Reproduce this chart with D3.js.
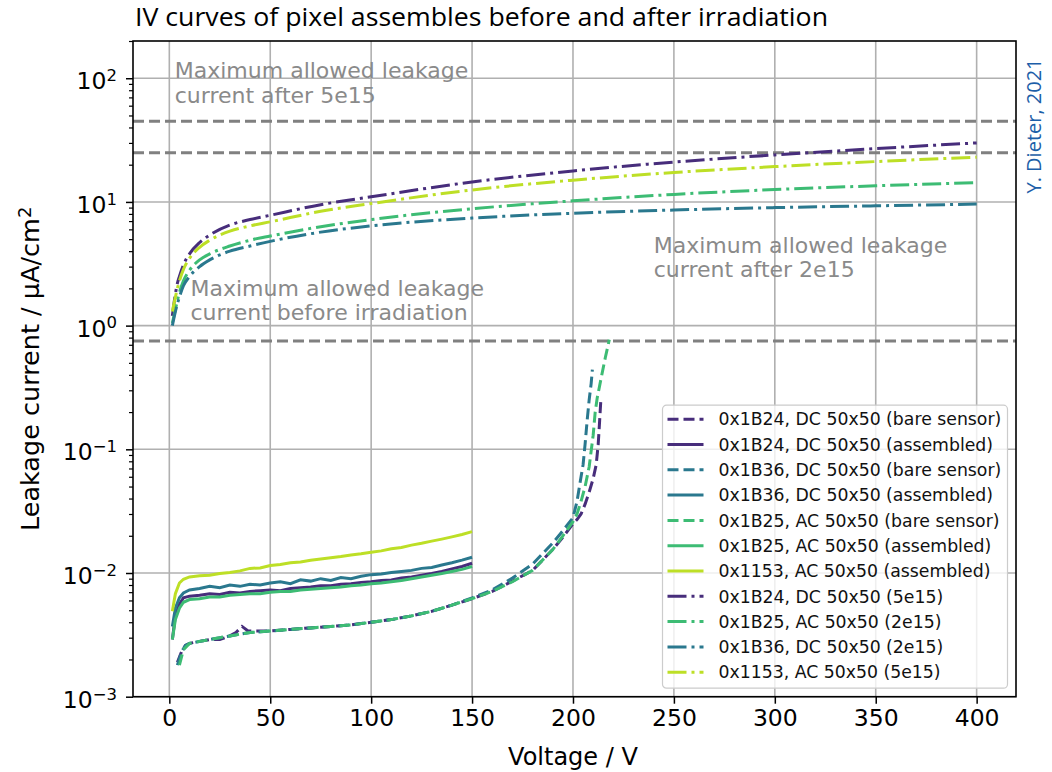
<!DOCTYPE html>
<html>
<head>
<meta charset="utf-8">
<script src="https://cdn.jsdelivr.net/npm/d3@7"></script>
<style>
    body { margin: 0; background: #fff; }
    text { font-family: "DejaVu Sans", sans-serif; }
    .title, .credit { font-family: "Open Sans", "DejaVu Sans", sans-serif; }
</style>
</head>
<body>
<div id="chart"></div>
<script>

// ---- data ----

// pre irradiation, assembled modules (solid)
let voltAsm = [1.5, 3, 5, 7, 10, 15, 20, 25, 30, 35, 40, 45, 50, 55, 60, 65, 70, 75, 80, 85, 90, 95, 100, 105, 110, 115, 120, 125, 130, 135, 140, 145, 150];
let asm1B24 = [0.0029, 0.0045, 0.0056, 0.0063, 0.0065, 0.0066, 0.0068, 0.0067, 0.0070, 0.0069, 0.0071, 0.0072, 0.0073, 0.0072, 0.0075, 0.0076, 0.0077, 0.0079, 0.0079, 0.0081, 0.0082, 0.0084, 0.0085, 0.0087, 0.0088, 0.0091, 0.0093, 0.0096, 0.0099, 0.0103, 0.0108, 0.0113, 0.0120];
let asm1B36 = [0.0037, 0.0052, 0.0063, 0.0069, 0.0073, 0.0075, 0.0078, 0.0076, 0.0080, 0.0078, 0.0081, 0.0080, 0.0083, 0.0085, 0.0082, 0.0088, 0.0086, 0.0090, 0.0087, 0.0092, 0.0090, 0.0094, 0.0097, 0.0098, 0.0101, 0.0103, 0.0105, 0.0109, 0.0111, 0.0116, 0.0121, 0.0127, 0.0134];
let asm1B25 = [0.0029, 0.0042, 0.0052, 0.0058, 0.0061, 0.0062, 0.0064, 0.0064, 0.0066, 0.0067, 0.0068, 0.0068, 0.0070, 0.0071, 0.0071, 0.0073, 0.0074, 0.0075, 0.0076, 0.0077, 0.0079, 0.0080, 0.0082, 0.0083, 0.0085, 0.0087, 0.0090, 0.0093, 0.0096, 0.0099, 0.0103, 0.0107, 0.0113];
let asm1153 = [0.0049, 0.0068, 0.0083, 0.0089, 0.0093, 0.0095, 0.0096, 0.0099, 0.0101, 0.0104, 0.0109, 0.0110, 0.0115, 0.0117, 0.0121, 0.0123, 0.0127, 0.0130, 0.0133, 0.0136, 0.0140, 0.0143, 0.0147, 0.0151, 0.0157, 0.0161, 0.0168, 0.0174, 0.0181, 0.0188, 0.0196, 0.0205, 0.0216];

// bare sensors (dashed)
let voltBare24 = [4, 6, 8, 10, 15, 20, 25, 30, 33, 36, 39, 42, 50, 60, 70, 80, 90, 100, 110, 120, 130, 140, 150, 160, 170, 180, 190, 195, 200, 202, 204, 206, 208, 210, 211.5, 212.5, 213.2, 213.8];
let bare1B24 = [0.0019, 0.0023, 0.0026, 0.0027, 0.0028, 0.0029, 0.0029, 0.0031, 0.0033, 0.0037, 0.0034, 0.0034, 0.0034, 0.0035, 0.0036, 0.0037, 0.0038, 0.0040, 0.0042, 0.0045, 0.0049, 0.0055, 0.0062, 0.0071, 0.0086, 0.0105, 0.0155, 0.0195, 0.025, 0.027, 0.030, 0.036, 0.045, 0.058, 0.075, 0.11, 0.17, 0.25];
let voltBare36 = [4, 6, 8, 10, 15, 20, 25, 30, 35, 40, 50, 60, 70, 80, 90, 100, 110, 120, 130, 140, 150, 160, 170, 180, 190, 195, 200, 202, 204, 205, 206, 207, 208, 209, 209.6];
let bare1B36 = [0.0018, 0.0023, 0.0026, 0.0027, 0.0028, 0.0029, 0.0030, 0.0031, 0.0032, 0.0033, 0.0034, 0.0035, 0.0036, 0.0037, 0.0038, 0.0040, 0.0042, 0.0045, 0.0049, 0.0055, 0.0063, 0.0073, 0.0091, 0.0118, 0.0175, 0.022, 0.028, 0.038, 0.06, 0.075, 0.11, 0.17, 0.25, 0.34, 0.44];
let voltBare25 = [5, 7, 10, 15, 20, 25, 30, 35, 40, 50, 60, 70, 80, 90, 100, 110, 120, 130, 140, 150, 160, 170, 180, 190, 195, 200, 202, 204, 206, 208, 210, 211, 212, 214, 216, 218];
let bare1B25 = [0.0018, 0.0024, 0.0027, 0.0028, 0.0029, 0.0030, 0.0031, 0.0032, 0.0033, 0.0034, 0.0035, 0.0036, 0.0037, 0.0038, 0.0040, 0.0042, 0.0045, 0.0049, 0.0055, 0.0062, 0.0071, 0.0085, 0.0105, 0.0155, 0.020, 0.026, 0.030, 0.038, 0.050, 0.072, 0.13, 0.20, 0.26, 0.38, 0.55, 0.77];

// after irradiation (dash dot)
let voltIrr = [1.5, 3, 4, 5, 7, 10, 15, 20, 30, 40, 50, 75, 100, 150, 200, 250, 300, 350, 400];
let irr1B24 = [1.2, 1.8, 2.2, 2.5, 3.1, 3.8, 4.7, 5.4, 6.5, 7.2, 7.8, 9.5, 11, 14.5, 17.8, 21, 24, 27, 30];
let irr1B25 = [1.05, 1.35, 1.6, 1.85, 2.3, 2.8, 3.4, 3.8, 4.4, 4.9, 5.3, 6.3, 7.2, 8.8, 10.2, 11.5, 12.6, 13.5, 14.3];
let irr1B36 = [1.0, 1.3, 1.5, 1.7, 2.1, 2.5, 3.0, 3.4, 4.0, 4.4, 4.8, 5.7, 6.4, 7.4, 8.1, 8.6, 9.0, 9.3, 9.6];
let irr1153 = [1.3, 1.7, 2.0, 2.3, 2.85, 3.5, 4.3, 4.9, 5.8, 6.4, 6.9, 8.4, 9.7, 12.5, 15, 17.3, 19.3, 21.2, 23];

// limits in uA/cm2
let limitValues = [45, 25, 0.75];
let limitTexts = [
    ["Maximum allowed leakage", "current after 5e15"],
    ["Maximum allowed leakage", "current after 2e15"],
    ["Maximum allowed leakage", "current before irradiation"]
];

let xTicks = [0, 50, 100, 150, 200, 250, 300, 350, 400];
let yDecades = [-3, -2, -1, 0, 1, 2];

let colPurple = "#472d7b", colTeal = "#2a788e", colGreen = "#3dbc74", colYellow = "#bddf26";

let series = [
    {label: "0x1B24, DC 50x50 (bare sensor)", color: colPurple, style: "dash", x: voltBare24, y: bare1B24},
    {label: "0x1B24, DC 50x50 (assembled)", color: colPurple, style: "solid", x: voltAsm, y: asm1B24},
    {label: "0x1B36, DC 50x50 (bare sensor)", color: colTeal, style: "dash", x: voltBare36, y: bare1B36},
    {label: "0x1B36, DC 50x50 (assembled)", color: colTeal, style: "solid", x: voltAsm, y: asm1B36},
    {label: "0x1B25, AC 50x50 (bare sensor)", color: colGreen, style: "dash", x: voltBare25, y: bare1B25},
    {label: "0x1B25, AC 50x50 (assembled)", color: colGreen, style: "solid", x: voltAsm, y: asm1B25},
    {label: "0x1153, AC 50x50 (assembled)", color: colYellow, style: "solid", x: voltAsm, y: asm1153},
    {label: "0x1B24, DC 50x50 (5e15)", color: colPurple, style: "dashdot", x: voltIrr, y: irr1B24},
    {label: "0x1B25, AC 50x50 (2e15)", color: colGreen, style: "dashdot", x: voltIrr, y: irr1B25},
    {label: "0x1B36, DC 50x50 (2e15)", color: colTeal, style: "dashdot", x: voltIrr, y: irr1B36},
    {label: "0x1153, AC 50x50 (5e15)", color: colYellow, style: "dashdot", x: voltIrr, y: irr1153}
];

let dashes = {solid: null, dash: "11,5", dashdot: "19,5,3,5"};

// ---- layout ----
let width = 1052, height = 772;
let margin = {top: 41, right: 36, bottom: 75.3, left: 133};
let plotW = width - margin.left - margin.right;
let plotH = height - margin.top - margin.bottom;

let svg = d3.select("#chart").append("svg")
    .attr("width", width)
    .attr("height", height);

let g = svg.append("g")
    .attr("transform", `translate(${margin.left}, ${margin.top})`);

let x = d3.scaleLinear().domain([-18, 419.5]).range([0, plotW]);
let y = d3.scaleLog().domain([1e-3, 200]).range([plotH, 0]);

g.append("clipPath").attr("id", "clip")
    .append("rect").attr("width", plotW).attr("height", plotH);

// grid
g.selectAll(".gx").data(xTicks).enter().append("line")
    .attr("x1", d => x(d)).attr("x2", d => x(d))
    .attr("y1", 0).attr("y2", plotH)
    .style("stroke", "#b0b0b0").style("stroke-width", 1.6);
g.selectAll(".gy").data(yDecades).enter().append("line")
    .attr("x1", 0).attr("x2", plotW)
    .attr("y1", d => y(Math.pow(10, d))).attr("y2", d => y(Math.pow(10, d)))
    .style("stroke", "#b0b0b0").style("stroke-width", 1.6);

// limit lines
g.selectAll(".limit").data(limitValues).enter().append("line")
    .attr("x1", 0).attr("x2", plotW)
    .attr("y1", d => y(d)).attr("y2", d => y(d))
    .style("stroke", "#808080").style("stroke-width", 3)
    .style("stroke-dasharray", "11,5");

// limit annotations (data coords of the anchor)
let textAnchors = [[2.7, 100], [240, 3.9], [10.5, 1.75]];
limitTexts.forEach((lines, i) => {
    let t = g.append("text")
        .attr("x", x(textAnchors[i][0]))
        .attr("y", y(textAnchors[i][1]))
        .style("font-size", "22px")
        .style("fill", "#8a8a8a");
    lines.forEach((l, j) => {
        t.append("tspan").attr("x", x(textAnchors[i][0])).attr("dy", j === 0 ? 0 : 24.5).text(l);
    });
});

// curves
let line = d3.line()
    .x(d => x(d[0]))
    .y(d => y(d[1]));

let curves = g.append("g").attr("clip-path", "url(#clip)");
series.forEach(s => {
    let pts = s.x.map((v, i) => [v, s.y[i]]);
    curves.append("path")
        .datum(pts)
        .attr("d", s.style === "dashdot" ? line.curve(d3.curveMonotoneX)(pts) : line.curve(d3.curveLinear)(pts))
        .style("fill", "none")
        .style("stroke", s.color)
        .style("stroke-width", 3)
        .style("stroke-dasharray", dashes[s.style]);
});

// axes
let xAxis = d3.axisBottom(x).tickValues(xTicks).tickSize(7).tickPadding(6);
let xg = g.append("g").attr("transform", `translate(0, ${plotH})`).call(xAxis);
xg.select(".domain").remove();
xg.selectAll("line").style("stroke-width", 1.5);
xg.selectAll("text").style("font-size", "23.5px").style("font-family", "DejaVu Sans");

let yAxis = d3.axisLeft(y).tickValues(yDecades.map(d => Math.pow(10, d))).tickSize(7).tickPadding(9).tickFormat("");
let yg = g.append("g").call(yAxis);
yg.select(".domain").remove();
yg.selectAll("line").style("stroke-width", 1.5);
yg.selectAll(".tick").each(function(d) {
    let e = Math.round(Math.log10(d));
    let t = d3.select(this).select("text")
        .style("font-size", "23.5px")
        .style("font-family", "DejaVu Sans")
        .attr("dy", "0.45em");
    t.append("tspan").text("10");
    t.append("tspan").attr("dy", "-0.5em").style("font-size", "16.5px")
        .text(e < 0 ? "\u2212" + (-e) : e);
});

let minors = [];
yDecades.forEach(dd => {
    [2, 3, 4, 5, 6, 7, 8, 9].forEach(m => {
        let v = m * Math.pow(10, dd);
        if (v <= 200) minors.push(v);
    });
});
let ym = g.append("g").call(d3.axisLeft(y).tickValues(minors).tickSize(4).tickFormat(""));
ym.select(".domain").remove();
ym.selectAll("line").style("stroke-width", 1.2);

// frame
g.append("rect")
    .attr("width", plotW).attr("height", plotH)
    .style("fill", "none").style("stroke", "#000").style("stroke-width", 1.6);

// legend
let lg = g.append("g")
    .attr("transform", `translate(${plotW - 8.5 - 345}, ${plotH - 8.5 - 283})`);
lg.append("rect")
    .attr("width", 345).attr("height", 283).attr("rx", 4)
    .style("fill", "white").style("fill-opacity", 0.8)
    .style("stroke", "#cccccc").style("stroke-width", 1.2);
series.forEach((s, i) => {
    let row = lg.append("g").attr("transform", `translate(0, ${14 + i * 25.3})`);
    row.append("line")
        .attr("x1", 5).attr("x2", 41)
        .style("stroke", s.color).style("stroke-width", 3)
        .style("stroke-dasharray", dashes[s.style]);
    row.append("text")
        .attr("x", 56).attr("dy", "0.36em")
        .style("font-size", "17.3px").style("fill", "#111")
        .text(s.label);
});

// labels
svg.append("text")
    .attr("x", margin.left + x(200)).attr("y", 765)
    .attr("text-anchor", "middle")
    .style("font-size", "24px")
    .text("Voltage / V");

let yl = svg.append("text")
    .attr("transform", `translate(39, ${margin.top + plotH / 2}) rotate(-90)`)
    .attr("text-anchor", "middle")
    .style("font-size", "25.5px");
yl.append("tspan").text("Leakage current / \u00b5A/cm");
yl.append("tspan").attr("dy", "-0.45em").style("font-size", "18px").text("2");

svg.append("text")
    .attr("class", "title")
    .attr("x", 135).attr("y", 26)
    .attr("textLength", 693)
    .attr("lengthAdjust", "spacingAndGlyphs")
    .style("font-size", "25px")
    .text("IV curves of pixel assembles before and after irradiation");

svg.append("text")
    .attr("class", "credit")
    .attr("transform", `translate(1041, 126) rotate(-90)`)
    .attr("text-anchor", "middle")
    .style("font-size", "20px")
    .style("fill", "#1c5ea8")
    .text("Y. Dieter, 2021");

</script>
</body>
</html>
